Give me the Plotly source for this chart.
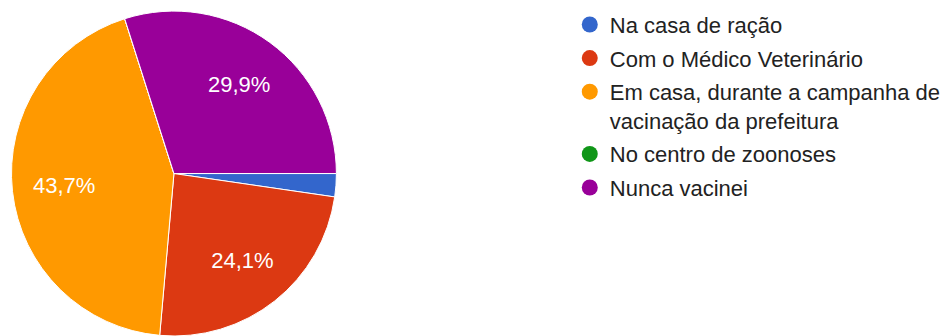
import plotly.graph_objects as go

labels = ["Na casa de ração", "Com o Médico Veterinário",
          "Em casa, durante a campanha de<br>vacinação da prefeitura",
          "No centro de zoonoses", "Nunca vacinei"]
values = [2.3, 24.1, 43.7, 0.0, 29.9]
colors = ["#3366CC", "#DC3912", "#FF9900", "#109618", "#990099"]
show_text = [False, True, True, False, True]

pie_domain = dict(x=[0.0117, 0.358], y=[0.0, 0.967])
fig = go.Figure()
# full pie (slices)
fig.add_trace(go.Pie(
    labels=labels, values=values, sort=False, direction="clockwise", rotation=90,
    marker=dict(colors=colors, line=dict(color="white", width=1)),
    textinfo="none", showlegend=False, hoverinfo="label+percent",
    domain=pie_domain,
))
# transparent ring overlay carrying the percentage labels at ~2/3 radius
fig.add_trace(go.Pie(
    labels=labels, values=values, sort=False, direction="clockwise", rotation=90,
    hole=0.36,
    marker=dict(colors=["rgba(0,0,0,0)"] * len(values), line=dict(width=0)),
    texttemplate=["%{percent:.1%}" if s else "" for s in show_text],
    textposition="inside", insidetextorientation="horizontal",
    textfont=dict(family="Liberation Sans, Arial", size=22, color="white"),
    showlegend=False, hoverinfo="skip",
    domain=pie_domain,
))

for i, (lab, col) in enumerate(zip(labels, colors)):
    fig.add_trace(go.Scatter(
        x=[None], y=[None], mode="markers", name=lab, legendgroup=f"g{i}",
        marker=dict(color=col, size=20, symbol="circle"), showlegend=True,
    ))

fig.update_layout(
    width=941, height=336, margin=dict(l=0, r=0, t=0, b=0, autoexpand=False),
    paper_bgcolor="white", plot_bgcolor="white",
    separators=",.",
    xaxis=dict(visible=False), yaxis=dict(visible=False),
    legend=dict(x=0.6055, y=0.989, xanchor="left", yanchor="top", valign="top",
                tracegroupgap=2, borderwidth=0,
                font=dict(family="Liberation Sans, Arial", size=22, color="#222222"),
                bgcolor="rgba(0,0,0,0)", itemclick=False),
)
fig.write_html("out.html")
